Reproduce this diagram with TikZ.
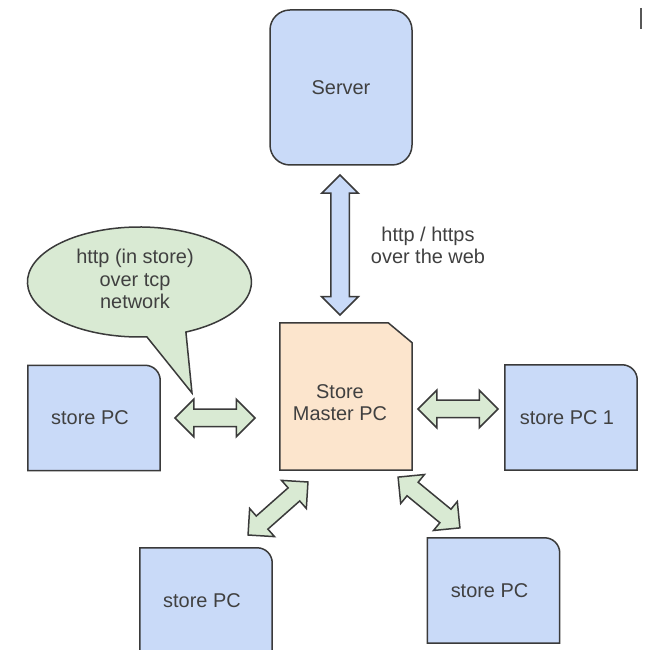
\documentclass[tikz,border=0pt]{standalone}
\usepackage{fontspec}
\setmainfont{Liberation Sans}
\usetikzlibrary{shapes.arrows,backgrounds,calc}
\definecolor{bluef}{HTML}{C9DAF8}
\definecolor{greenf}{HTML}{D9EAD3}
\definecolor{orangef}{HTML}{FCE5CD}
\definecolor{linec}{HTML}{3A3A3A}
\definecolor{textc}{HTML}{404040}
\tikzset{
  txt/.style={font=\fontsize{20}{22.5}\selectfont, text=textc, align=center},
  serverbox/.style={txt, draw=linec, line width=1.5bp, fill=bluef, rounded corners=20bp,
    minimum width=142bp, minimum height=155bp, inner sep=0pt},
  pcbox/.style={txt, minimum width=132bp, minimum height=105bp, inner sep=0pt},
  pcshape/.style={draw=linec, line width=1.5bp, fill=bluef},
  mastershape/.style={draw=linec, line width=1.5bp, fill=orangef},
  bubshape/.style={draw=linec, line width=1.5bp, fill=greenf},
  garrow/.style={double arrow, draw=linec, line width=1.5bp, fill=greenf,
    inner sep=8bp, double arrow head extend=10bp, double arrow tip angle=90,
    minimum height=80bp},
  barrow/.style={garrow, fill=bluef, inner sep=8.5bp, double arrow head extend=9bp,
    minimum height=140bp}
}
\begin{document}
\begin{tikzpicture}[x=1bp,y=1bp]
\useasboundingbox (0,0) rectangle (648,650);
\begin{scope}[on background layer]
  \fill[white] (0,0) rectangle (648,650);
\end{scope}

% nodes (placed at their text centres; shapes drawn below, offset as in the original)
\node[serverbox] (server) at (341,562.5) {Server};
\node[pcbox, minimum height=147bp] (master) at (340,247.5) {Store\\Master PC};
\node[pcbox] (pcl)  at (90,232)   {store PC};
\node[pcbox] (pcr)  at (567,232.5) {store PC 1};
\node[pcbox] (pcbl) at (202,49.5) {store PC};
\node[pcbox] (pcbr) at (489.5,59.5) {store PC};

% shapes of the boxes
\begin{scope}[on background layer]
  \draw[mastershape] ([shift={(6bp,6bp)}]master.south west)
     -- ([shift={(6bp,6bp)}]master.north west)
     -- ([shift={(-18bp,6bp)}]master.north east)
     -- ([shift={(6bp,-14bp)}]master.north east)
     -- ([shift={(6bp,6bp)}]master.south east) -- cycle;
  \foreach \n in {pcl,pcr,pcbl,pcbr}{
    \draw[pcshape] ([xshift=4bp]\n.south west) -- ([xshift=4bp]\n.north west)
      -- ([xshift=-11bp]\n.north east) arc[start angle=90, end angle=0, radius=15bp]
      -- ([xshift=4bp]\n.south east) -- cycle;
  }
\end{scope}

% speech bubble
\coordinate (tip) at (192,257);
\draw[bubshape] (tip) -- (185.9,317.95)
  arc[start angle=-65.5, end angle=273.8, x radius=112, y radius=55] -- cycle;
\node[txt] (bubtxt) at (135,371) {http (in store)\\over tcp\\network};

% web label
\node[txt] (weblabel) at (428,404.5) {http / https\\over the web};

% block arrows
\node[barrow, rotate=90] (aV) at (340,405) {};
\node[garrow] (aL) at (215,232) {};
\node[garrow] (aR) at (458,241) {};
\node[garrow, rotate=41.5] (aBL) at (278,141.5) {};
\node[garrow, rotate=-39.4] (aBR) at (429,147.5) {};

% small mark top right
\draw[line width=1.8bp, linec!85] (641,642) -- (641,621);
\end{tikzpicture}
\end{document}
